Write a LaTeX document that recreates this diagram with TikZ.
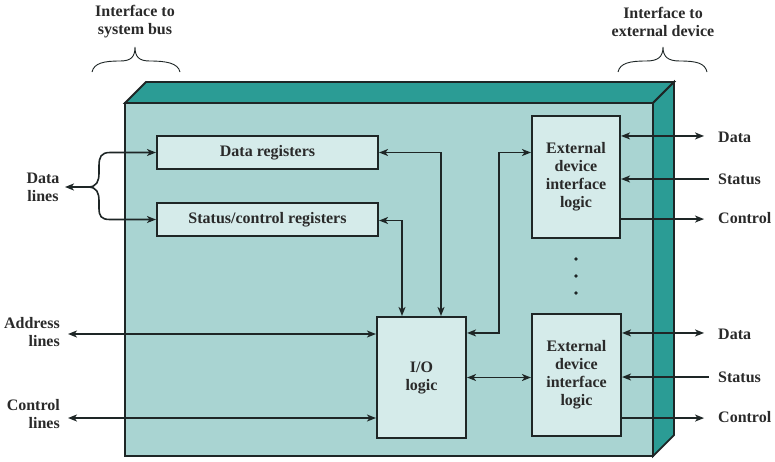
\documentclass[tikz,border=0pt]{standalone}
\usepackage{fontspec}
\setmainfont{Liberation Serif}
\usetikzlibrary{arrows.meta,calc}
\definecolor{frontc}{HTML}{A9D4D2}
\definecolor{darkc}{HTML}{2B9C95}
\definecolor{innerc}{HTML}{D5EBEA}
\definecolor{ink}{HTML}{1E2626}
\definecolor{txt}{HTML}{2A2A2A}
\newcommand\lblfont{\fontsize{16}{18}\selectfont\bfseries}
\begin{document}
\begin{tikzpicture}[x=1pt,y=-1pt,
  box/.style={draw=ink,line width=2.1pt,fill=innerc,inner sep=0pt,align=center,font=\lblfont,text=txt},
  conn/.style={draw=ink,line width=1.6pt,>={Stealth[length=9pt,width=7pt,inset=2.5pt]}},
  lbl/.style={font=\lblfont,text=txt,inner sep=0pt},
  facec/.style={draw=ink,line width=1.8pt,line join=miter}]
\useasboundingbox (0,0) rectangle (775,461);
% 3D box
\path[facec,fill=darkc] (125,103) -- (146,82) -- (674,82) -- (653,103) -- cycle;
\path[facec,fill=darkc] (653,103) -- (674,82) -- (674,435) -- (653,456) -- cycle;
\path[facec,fill=frontc] (125,103) rectangle (653,456);
% braces
\draw[ink,line width=0.9pt] (92,72) .. controls (94,63) and (104,61) .. (120,61) .. controls (131,61) and (135,57) .. (135,47)
  .. controls (135,57) and (139,61) .. (150,61) .. controls (166,61) and (178,63) .. (180,72);
\draw[ink,line width=0.9pt] (618,72) .. controls (620,63) and (630,61) .. (646,61) .. controls (658,61) and (663,57) .. (663,47)
  .. controls (663,57) and (668,61) .. (680,61) .. controls (696,61) and (705,63) .. (707,72);
% top labels
\node[lbl,align=center] (tl) at (135,22) {Interface to\\system bus};
\node[lbl,align=center] (tr) at (663,22) {Interface to\\external device};
% boxes
\node[box,minimum width=221pt,minimum height=33pt] (dreg) at (267.5,152.5) {Data registers};
\node[box,minimum width=221pt,minimum height=33pt] (sreg) at (267.5,219.5) {Status/control registers};
\node[box,minimum width=88pt,minimum height=122pt] (ext1) at (576,177) {External\\device\\interface\\logic};
\node[box,minimum width=89pt,minimum height=122pt] (ext2) at (576.5,375) {External\\device\\interface\\logic};
\node[box,minimum width=89pt,minimum height=121pt] (io) at (421.5,377.5) {I/O\\logic};
% dots
\fill[ink] (576,259) circle (1.9pt) (576,276) circle (1.9pt) (576,293) circle (1.9pt);
% internal connectors
\draw[conn,<->] (dreg.east) -| ([xshift=19.5pt]io.north);
\draw[conn,<->] ([yshift=-1pt]sreg.east) -| ([xshift=-19.5pt]io.north);
\draw[conn,<->] ([yshift=-17pt]io.north east) -- ++(32pt,0) |- (ext1.west |- dreg.east);
\draw[conn,<->] (io.east) -- (io.east -| ext2.west);
% left side
\coordinate (addr) at (68,334);
\coordinate (ctrl) at (68,418);
\coordinate (dl) at (65,187);
\coordinate (dlj) at (88,187);
\draw[conn,<->] (addr) -- (addr -| io.west);
\draw[conn,<->] (ctrl) -- (ctrl -| io.west);
\draw[conn,<-] (dl) -- (dlj);
\draw[conn,->] (dlj) .. controls (97,187) and (99,181) .. (99,173) -- (99,166) .. controls (99,157) and (101,152.5) .. (110,152.5) -- (dreg.west);
\draw[conn,->] (dlj) .. controls (97,187) and (99,193) .. (99,201) -- (99,208) .. controls (99,216) and (101,219.5) .. (110,219.5) -- (sreg.west);
\node[lbl,align=center] (dlt) at (43,187) {Data\\lines};
\node[lbl,align=right,anchor=east] (alt) at (60,332) {Address\\lines};
\node[lbl,align=right,anchor=east] (clt) at (60,414.5) {Control\\lines};
% right side ext1
\draw[conn,<->] ([yshift=-21pt]ext1.north east) -- ++(83pt,0) coordinate (d1);
\draw[conn,<-] ([yshift=-2pt]ext1.east) -- ++(88pt,0) coordinate (s1);
\draw[conn,->] ([yshift=20pt]ext1.south east) -- ++(83pt,0) coordinate (c1);
\node[lbl,anchor=west] (d1t) at (718,137) {Data};
\node[lbl,anchor=west] (s1t) at (718,179) {Status};
\node[lbl,anchor=west] (c1t) at (718,218) {Control};
% right side ext2
\draw[conn,<->] ([yshift=-20pt]ext2.north east) -- ++(82pt,0) coordinate (d2);
\draw[conn,<-] ([yshift=-2pt]ext2.east) -- ++(87pt,0) coordinate (s2);
\draw[conn,->] ([yshift=19pt]ext2.south east) -- ++(82pt,0) coordinate (c2);
\node[lbl,anchor=west] (d2t) at (718,334) {Data};
\node[lbl,anchor=west] (s2t) at (718,377) {Status};
\node[lbl,anchor=west] (c2t) at (718,417) {Control};
\end{tikzpicture}
\end{document}
